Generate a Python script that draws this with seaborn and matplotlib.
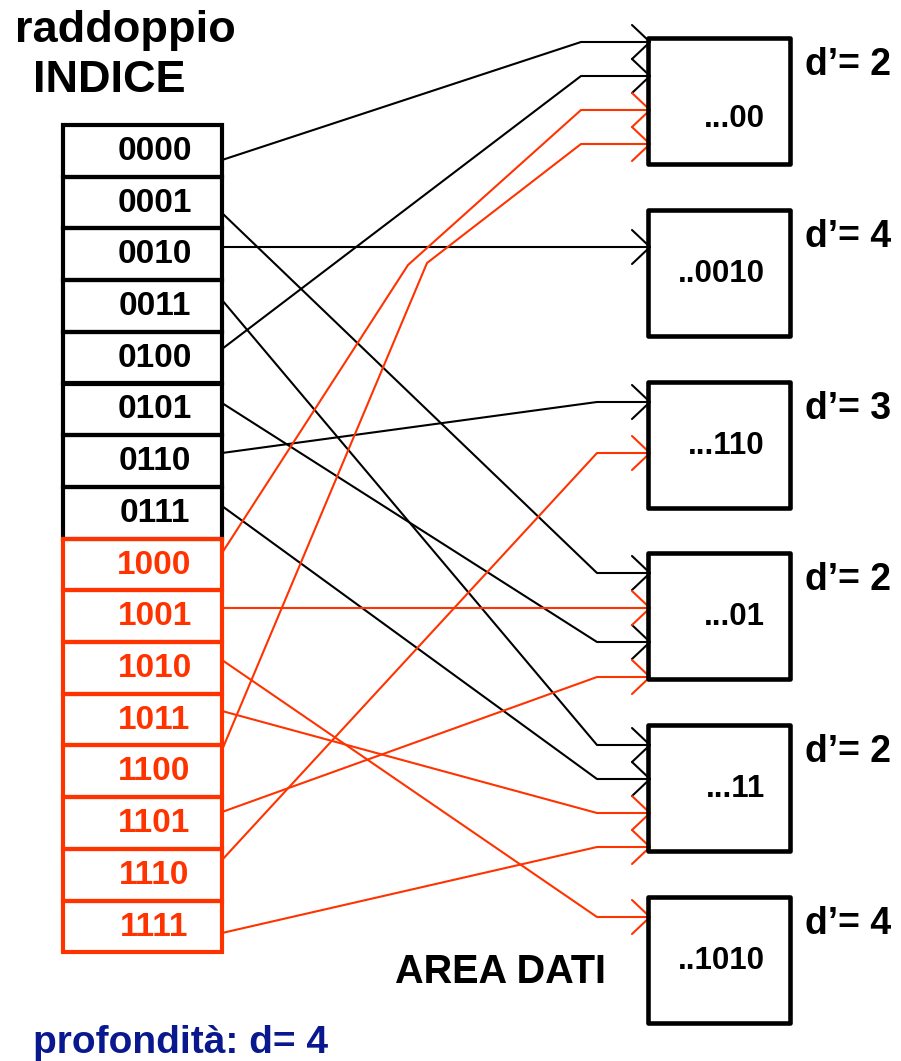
import matplotlib
matplotlib.use("Agg")
import matplotlib.pyplot as plt
import seaborn as sns
import pandas as pd
from matplotlib.patches import Rectangle

# ─── DATI ────────────────────────────────────────────────────────────────
index_codes = ["0000", "0001", "0010", "0011", "0100", "0101", "0110", "0111",
               "1000", "1001", "1010", "1011", "1100", "1101", "1110", "1111"]
bucket_labels = ["...00", "..0010", "...110", "...01", "...11", "..1010"]
local_depth = [2, 4, 3, 2, 2, 4]
# bucket puntato da ogni cella dell'indice
pointer_target = [0, 3, 1, 4, 0, 3, 2, 4, 0, 3, 5, 4, 0, 3, 2, 4]
global_depth = 4

# ─── LAYOUT (pixel, asse y verso il basso) ───────────────────────────────
RED = "#ff3300"
BLUE = "#0a1890"
FONT = "Liberation Sans"

tab_x0, tab_x1 = 63, 222
tab_top, row_h = 125, 51.7
box_x0, box_x1 = 648, 790
box_h = 126
box_top = [38, 210, 382, 553, 725, 897]
start_y = [160, 213, 247, 300, 349, 403, 453, 506,
           553, 608, 660, 711, 750, 812, 860, 933]
arrival_y = [42, 573, 247, 745, 76, 642, 402, 779,
             110, 608, 917, 813, 144, 677, 453, 847]
extra_bend = {8: (408, 265), 12: (427, 263)}
tip_x = 650

sns.set_theme(style="white")
plt.rcParams["font.family"] = [FONT, "DejaVu Sans"]
plt.rcParams["text.color"] = "black"

fig = plt.figure(figsize=(9.01, 10.61), dpi=100)
ax = fig.add_axes([0, 0, 1, 1])

# ─── collegamenti indice -> bucket ───────────────────────────────────────
rows = []
for i, code in enumerate(index_codes):
    half = code[0]
    b = pointer_target[i]
    ya = arrival_y[i]
    pts = [(tab_x1, start_y[i])]
    if i in extra_bend:
        pts.append(extra_bend[i])
    bend_x = 581 if b == 0 else 597
    if abs(ya - start_y[i]) > 2:
        pts.append((bend_x, ya))
    pts.append((tip_x, ya))
    for x, y in pts:
        rows.append({"x": x, "y": y, "unit": f"l{i}", "half": half})
    # punta della freccia (aperta)
    for x, y in [(tip_x - 18, ya - 17), (tip_x, ya), (tip_x - 18, ya + 17)]:
        rows.append({"x": x, "y": y, "unit": f"h{i}", "half": half})

links = pd.DataFrame(rows)
sns.lineplot(data=links, x="x", y="y", units="unit", hue="half",
             palette={"0": "black", "1": RED}, estimator=None, sort=False,
             linewidth=1.5, legend=False, ax=ax)

# ─── tabella indice ──────────────────────────────────────────────────────
for i, code in enumerate(index_codes):
    col = "black" if code[0] == "0" else RED
    y0 = tab_top + i * row_h
    ax.add_patch(Rectangle((tab_x0, y0), tab_x1 - tab_x0, row_h, fill=False,
                           edgecolor=col, linewidth=3, zorder=3 + int(code[0])))
    ax.text((tab_x0 + tab_x1) / 2 + 12, y0 + 35, code, color=col, fontsize=24,
            fontweight="bold", ha="center", va="baseline", zorder=5)

# ─── area dati ───────────────────────────────────────────────────────────
for k, lab in enumerate(bucket_labels):
    y0 = box_top[k]
    ax.add_patch(Rectangle((box_x0, y0), box_x1 - box_x0, box_h, fill=False,
                           edgecolor="black", linewidth=3.3, joinstyle="round",
                           zorder=4))
    off = 89 if k == 0 else 72
    ax.text(765, y0 + off, lab, fontsize=22.5, fontweight="bold",
            ha="right", va="baseline")
    ax.text(805, y0 + 37, f"d\u2019= {local_depth[k]}", fontsize=27,
            fontweight="bold", ha="left", va="baseline")

# ─── testi ───────────────────────────────────────────────────────────────
ax.text(15, 42, "raddoppio", fontsize=32.5, fontweight="bold", va="baseline")
ax.text(33, 92, "INDICE", fontsize=32.5, fontweight="bold", va="baseline")
ax.text(395, 983, "AREA DATI", fontsize=28.5, fontweight="bold", va="baseline")
ax.text(33, 1053, f"profondità: d= {global_depth}", fontsize=28,
        fontweight="bold", color=BLUE, va="baseline")

ax.set_xlim(0, 901)
ax.set_ylim(1061, 0)
ax.axis("off")

fig.savefig("out.png", dpi=100)
plt.close(fig)
